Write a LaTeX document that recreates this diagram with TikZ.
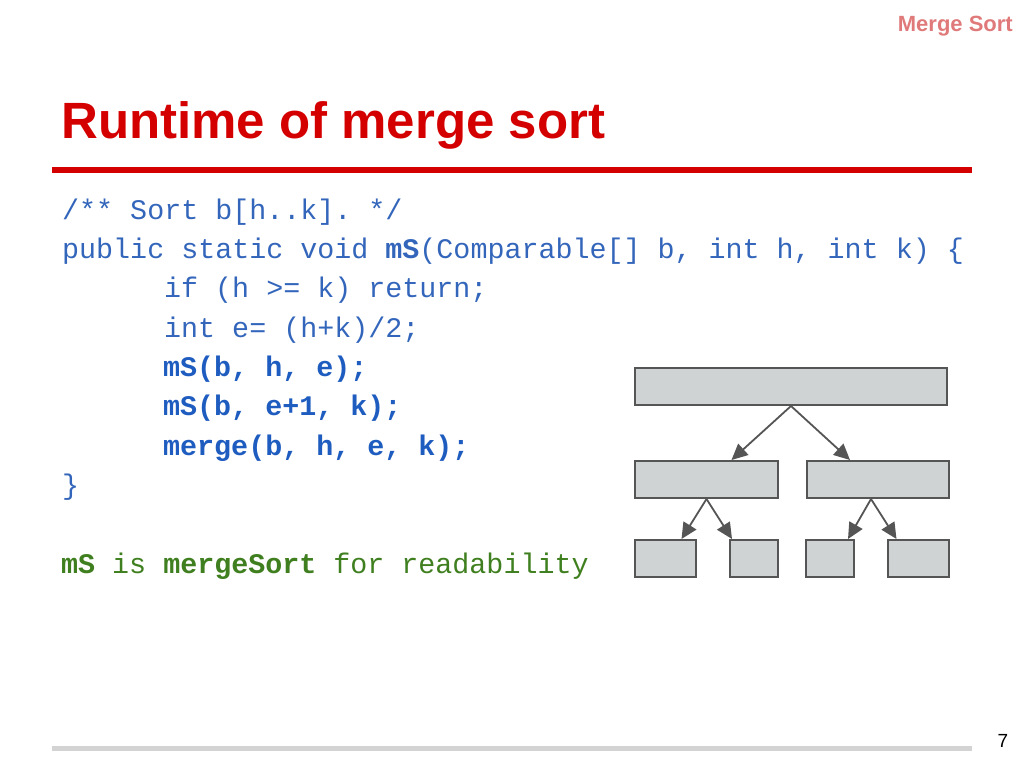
\documentclass[tikz,border=0pt]{standalone}
\usepackage{fontspec}
\setmainfont{Liberation Sans}
\setmonofont{Liberation Mono}
\usetikzlibrary{arrows.meta}
\definecolor{titlered}{HTML}{D40000}
\definecolor{headred}{HTML}{E07A7A}
\definecolor{codeblue}{HTML}{3366BB}
\definecolor{keyblue}{HTML}{1F5CBF}
\definecolor{notegreen}{HTML}{3F7F1F}
\definecolor{boxfill}{HTML}{D0D3D4}
\definecolor{boxline}{HTML}{555555}
\definecolor{rulegray}{HTML}{D3D3D3}
\tikzstyle{box}=[rectangle,draw=boxline,fill=boxfill,line width=2pt,minimum height=37pt,inner sep=0pt]
\tikzstyle{edge} = [draw,line width=1.8pt,boxline,-{Triangle[length=16pt,width=15pt]}]
\tikzstyle{code} = [anchor=base west,inner sep=0pt,font=\fontsize{28.35}{30}\selectfont\ttfamily,text=codeblue]

\begin{document}
\begin{tikzpicture}[x=1pt,y=-1pt]
				\useasboundingbox (0,0) rectangle (1024,768);
				% Header, title and rules
				\node[anchor=base east,inner sep=0pt,font=\fontsize{22}{24}\selectfont\bfseries,text=headred] (head) at (1013,32) {Merge Sort};
				\node[anchor=base west,inner sep=0pt,font=\fontsize{51}{55}\selectfont\bfseries,text=titlered] (title) at (61,138) {Runtime of merge sort};
				\draw[titlered,line width=6pt] (52,170) -- (972,170);
				\draw[rulegray,line width=5pt] (52,748) -- (972,748);
				\node[anchor=base,inner sep=0pt,font=\fontsize{19}{21}\selectfont] (page) at (1003,747) {7};

				% Then the code lines
				\node[code] (c1) at (62,219) {/** Sort b[h..k]. */};
				\node[code] (c2) at (62,258) {public static void \textbf{mS}(Comparable[] b, int h, int k) \{};
				\node[code] (c3) at (164,297) {if (h >= k) return;};
				\node[code] (c4) at (164,337) {int e= (h+k)/2;};
				\node[code,text=keyblue] (c5) at (163,376) {\textbf{mS(b, h, e);}};
				\node[code,text=keyblue] (c6) at (163,415) {\textbf{mS(b, e+1, k);}};
				\node[code,text=keyblue] (c7) at (163,455) {\textbf{merge(b, h, e, k);}};
				\node[code] (c8) at (62,494) {\}};
				\node[code,text=notegreen] (note) at (61,573) {\textbf{mS} is \textbf{mergeSort} for readability};

				% Now the boxes of the call tree
				\foreach \pos/\name/\w in {{(791,386.5)/top/312}, {(706.5,479.5)/m1/143}, {(878,479.5)/m2/142},
										{(665.5,558.5)/b1/61}, {(754,558.5)/b2/48}, {(830,558.5)/b3/48}, {(918.5,558.5)/b4/61}}
				\node[box,minimum width=\w pt] (\name) at \pos {};

				% Connect the boxes
				\foreach \source/\dest/\sx/\dx in {top/m1/0/25, top/m2/0/-28, m1/b1/0/16, m1/b2/0/-22, m2/b3/-7/18, m2/b4/-7/-22}
				\path[edge] ([xshift=\sx pt]\source.south) -- ([xshift=\dx pt]\dest.north);
\end{tikzpicture}
\end{document}
